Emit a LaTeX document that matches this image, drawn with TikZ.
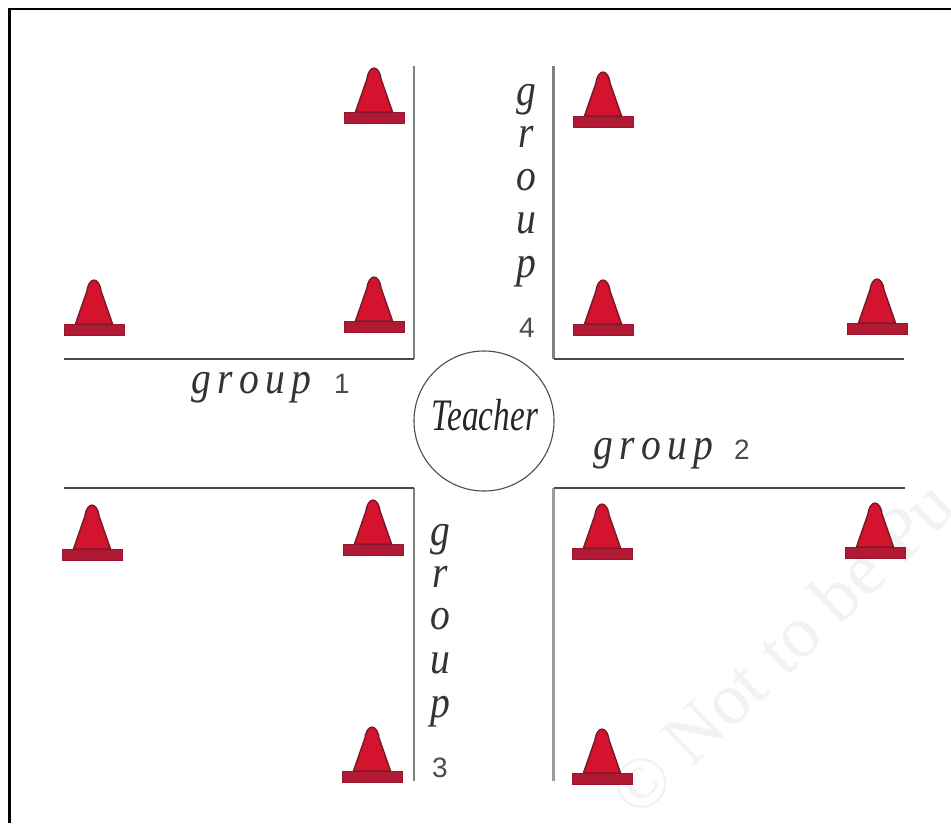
\documentclass[tikz,border=0pt]{standalone}
\usepackage{fontspec}
\setmainfont{Liberation Serif}
\newfontfamily\hand[FakeStretch=0.74]{Liberation Serif}
\newfontfamily\handw[FakeStretch=0.88]{Liberation Serif}
\newfontfamily\digitfont{Liberation Sans}
\definecolor{conered}{HTML}{D4142F}
\definecolor{conedark}{HTML}{7A1A28}
\definecolor{baseRed}{HTML}{B01A35}
\definecolor{wallgrey}{HTML}{4A4A4A}
\definecolor{wallvert}{HTML}{808080}
\definecolor{wallvertb}{HTML}{9A9A9A}
\definecolor{markgrey}{HTML}{F2F2F2}
\tikzset{
  wall/.style={draw=wallgrey,line width=2pt},
  lab/.style={inner sep=0pt,font=\handw\itshape\fontsize{45}{45}\selectfont,text=black!80},
  teach/.style={inner sep=0pt,font=\hand\itshape\fontsize{45}{45}\selectfont,text=black!85},
  digit/.style={inner sep=0pt,font=\digitfont\fontsize{28}{28}\selectfont,text=black!70},
  mark text/.style={inner sep=0pt,font=\fontsize{74}{74}\selectfont,text=markgrey},
  cone/.pic={
    \fill[conered,draw=conedark,line width=1.5pt] (-18.5,0) -- (-7,-33) .. controls (-5,-47.5) and (5,-47.5) .. (7,-33) -- (18.5,0) -- cycle;
    \fill[baseRed,draw=baseRed!85!black,line width=0.8pt] (-30,0) rectangle (30,11);
    \draw[conedark,line width=1pt] (-18.5,0) -- (18.5,0);
  }
}
\begin{document}
\begin{tikzpicture}[x=1pt,y=-1pt]
\useasboundingbox (0,0) rectangle (951,823);
\fill[white] (0,0) rectangle (951,823);
\begin{scope}
\clip (0,0) rectangle (951,823);
\node[mark text,rotate=44,anchor=base west] (wm) at (638,821) {© Not to be Pu};
\end{scope}
\draw[black,line width=2.6pt] (9.5,823) -- (9.5,9) -- (951,9);
% walls
\coordinate (a1) at (64,358.5); \coordinate (a2) at (414,358.5); \coordinate (a3) at (414,66);
\coordinate (b1) at (553.5,66); \coordinate (b2) at (553.5,358.5); \coordinate (b3) at (904,358.5);
\coordinate (c1) at (64,487.5); \coordinate (c2) at (414,487.5); \coordinate (c3) at (414,781);
\coordinate (d1) at (553.5,781); \coordinate (d2) at (553.5,487.5); \coordinate (d3) at (905,487.5);
\draw[wall,draw=wallvert] (a2) -- (a3);
\draw[wall,draw=wallvert] (c2) -- (c3);
\draw[wall,draw=wallvert,line width=2.4pt] (b1) -- (b2);
\draw[wall,draw=wallvertb,line width=3pt] (d1) -- (d2);
\draw[wall] (a1) -- (a2);
\draw[wall] (b2) -- (b3);
\draw[wall] (c1) -- (c2);
\draw[wall] (d2) -- (d3);
% cones
\foreach \p in {(374,112),(374,321),(94,324),(603,116),(603,324),(877,323),
                (373,544),(372,771),(92,549),(602,548),(875,547),(602,773)}
  \pic at \p {cone};
% teacher
\node[draw=black!70,line width=1.1pt,circle,minimum size=140pt,inner sep=0pt] (teacher) at (484,421) {};
\node[teach,anchor=base] (tt) at (485,430) {Teacher};
% horizontal labels
\node[lab,anchor=base west] (g1) at (191,393) {g\hspace{6.5pt}r\hspace{6.5pt}o\hspace{6.5pt}u\hspace{6.5pt}p};
\node[digit,anchor=base] (n1) at (342,393) {1};
\node[lab,anchor=base west] (g2) at (593,459) {g\hspace{6.5pt}r\hspace{6.5pt}o\hspace{6.5pt}u\hspace{6.5pt}p};
\node[digit,anchor=base] (n2) at (742,459) {2};
% vertical labels
\foreach \t/\y [count=\i] in {g/105,r/147,o/190,u/233,p/277}
  \node[lab,anchor=base] (v4\i) at (526,\y) {\t};
\node[digit,anchor=base] (n4) at (527,337) {4};
\foreach \t/\y [count=\i] in {g/545,r/587,o/629,u/673,p/717}
  \node[lab,anchor=base] (v3\i) at (440,\y) {\t};
\node[digit,anchor=base] (n3) at (440,777) {3};
\end{tikzpicture}
\end{document}
